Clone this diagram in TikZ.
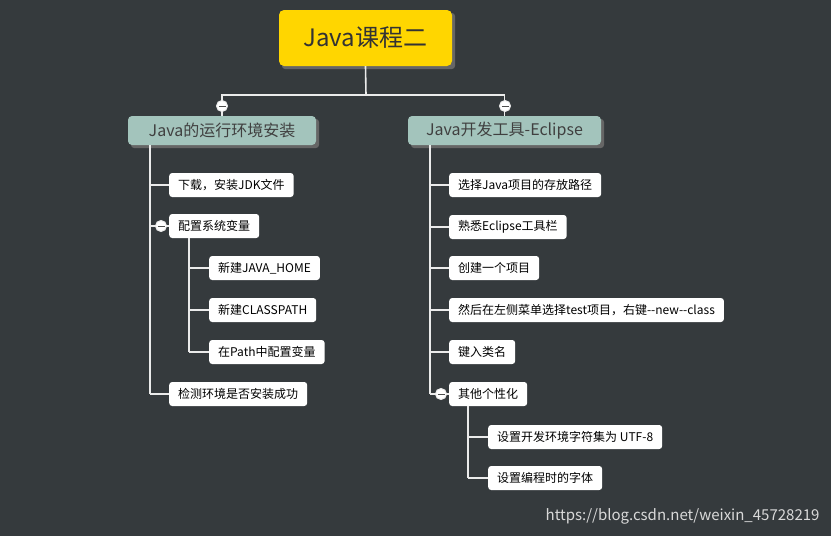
\documentclass[tikz,border=0pt]{standalone}
\usepackage{fontspec}
\setmainfont{Noto Sans CJK SC}
\begin{document}
\begin{tikzpicture}[x=1pt,y=-1pt,
  leaf/.style={fill=white,rounded corners=3pt,minimum height=24pt,inner xsep=9pt,anchor=west,font=\fontsize{12}{13}\selectfont,text=black},
  lvl/.style={fill={rgb,255:red,163;green,196;blue,188},rounded corners=4pt,minimum height=29pt,inner xsep=10pt,font=\fontsize{16}{18}\selectfont,text=black!75},
  ln/.style={draw=white!92!black,line width=1.6pt},
  col/.style={circle,draw=white!92!black,fill=white,line width=1pt,minimum size=11pt,inner sep=0pt},
  shad/.style={fill=black!60,rounded corners=3pt}]
\fill[fill={rgb,255:red,53;green,58;blue,61}] (0,0) rectangle (831,536);
% title
\fill[shad] (282,13) rectangle (455,69);
\node[fill={rgb,255:red,255;green,214;blue,0},rounded corners=5pt,minimum width=173pt,minimum height=56pt,font=\fontsize{24}{26}\selectfont,text=black!80] (t) at (365.5,38) {Java课程二};
\coordinate (tj) at (366,95);
\draw[ln] (t.south) -- (tj);
% level 1
\fill[shad] (131,119) rectangle (319,148);
\node[lvl,minimum width=188pt] (a) at (222,130.5) {Java的运行环境安装};
\fill[shad] (411,119) rectangle (604,148);
\node[lvl,minimum width=193pt] (b) at (504.5,130.5) {Java开发工具-Eclipse};
\draw[ln] (a.north) |- (tj) -| (b.north);
\node[col] (ca) at (222,106) {}; \draw[line width=1pt,black!70] (218.5,106)--(225.5,106);
\node[col] (cb) at (505,106) {}; \draw[line width=1pt,black!70] (501.5,106)--(508.5,106);
% left children
\foreach \n/\y/\t in {a1/185/{下载，安装JDK文件},a2/226/{配置系统变量},a3/394/{检测环境是否安装成功}}{
  \node[leaf] (\n) at (169,\y) {\t};
  \draw[ln] (150,\y) -- (\n.west);}
\draw[ln] (a.south -| 150,0) -- (150,394);
\foreach \n/\y/\t in {b1/268/{新建JAVA\_HOME},b2/310/{新建CLASSPATH},b3/352/{在Path中配置变量}}{
  \node[leaf] (\n) at (209,\y) {\t};
  \draw[ln] (189,\y) -- (\n.west);}
\draw[ln] (a2.south -| 189,0) -- (189,352);
\node[col] (c2) at (161,226) {}; \draw[line width=1pt,black!70] (157.5,226)--(164.5,226);
% right children
\foreach \n/\y/\t in {r1/185/{选择Java项目的存放路径},r2/227/{熟悉Eclipse工具栏},r3/268/{创建一个项目},r4/310/{然后在左侧菜单选择test项目，右键-{}-new-{}-class},r5/352/{键入类名},r6/394/{其他个性化}}{
  \node[leaf] (\n) at (449,\y) {\t};
  \draw[ln] (430,\y) -- (\n.west);}
\draw[ln] (b.south -| 430,0) -- (430,394);
\foreach \n/\y/\t in {s1/437/{设置开发环境字符集为 UTF-8},s2/478/{设置编程时的字体}}{
  \node[leaf] (\n) at (488,\y) {\t};
  \draw[ln] (468,\y) -- (\n.west);}
\draw[ln] (r6.south -| 468,0) -- (468,478);
\node[col] (c6) at (441,394) {}; \draw[line width=1pt,black!70] (437.5,394)--(444.5,394);
\node[anchor=east,text=white!85!black,font=\fontsize{15}{17}\selectfont] (w) at (823,516) {https://blog.csdn.net/weixin\_45728219};
\end{tikzpicture}
\end{document}
